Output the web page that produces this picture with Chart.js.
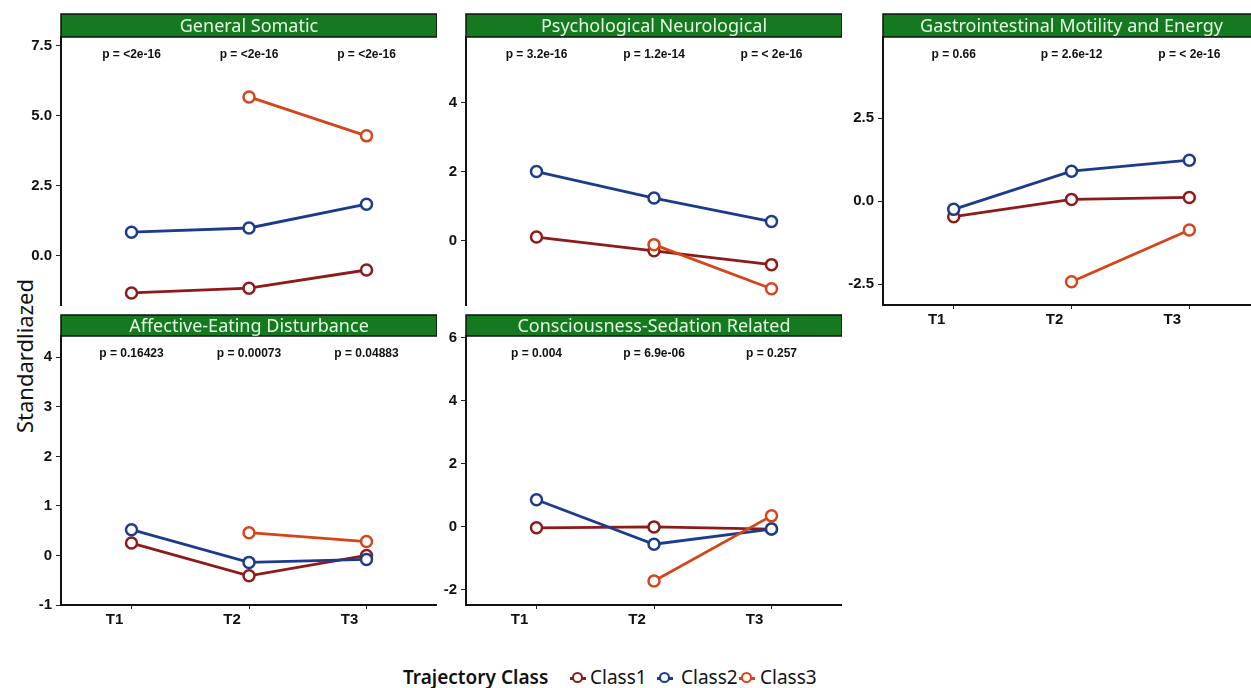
<!DOCTYPE html>
<html lang="en">
<head>
<meta charset="UTF-8">
<title>Trajectory Class</title>
<script src="https://cdn.jsdelivr.net/npm/chart.js"></script>
<style>
  html, body { margin: 0; padding: 0; background: #fff; overflow: hidden; }
  body { width: 1251px; height: 688px; position: relative; font-family: "Noto Sans", Arial, sans-serif; }
  canvas.panel { position: absolute; }
  #ytitle {
    position: absolute; left: 24px; top: 356px;
    transform: translate(-50%, -50%) rotate(-90deg);
    font-size: 22px; color: #111; white-space: nowrap;
  }
  .leg { position: absolute; top: 664px; font-size: 19px; color: #111; white-space: nowrap; line-height: 26px; }
  .leg.title { font-weight: 600; }
  .key { position: absolute; top: 678px; width: 16px; height: 0; }
  .key .ln { position: absolute; left: 0; top: -1px; width: 16px; height: 2.5px; }
  .key .pt { position: absolute; left: 2px; top: -6px; width: 7px; height: 7px; border-radius: 50%; background: #fff; border: 2.5px solid; }
</style>
</head>
<body>
<div id="ytitle">Standardliazed</div>

<script>
  // ---- data ----
  const timePoints = ["T1", "T2", "T3"];
  const classNames = ["Class1", "Class2", "Class3"];
  const classColors = ["#8e1a1a", "#1c3b8c", "#d6441a"];

  const panelTitles = [
    "General Somatic",
    "Psychological Neurological",
    "Gastrointestinal Motility and Energy",
    "Affective-Eating Disturbance",
    "Consciousness-Sedation Related"
  ];

  const class1Values = [
    [-1.32, -1.15, -0.50],
    [0.10, -0.30, -0.70],
    [-0.47, 0.05, 0.11],
    [0.25, -0.41, 0.00],
    [-0.03, 0.00, -0.07]
  ];
  const class2Values = [
    [0.85, 1.00, 1.85],
    [2.00, 1.23, 0.55],
    [-0.25, 0.90, 1.23],
    [0.52, -0.14, -0.08],
    [0.86, -0.55, -0.07]
  ];
  const class3Values = [
    [null, 5.68, 4.29],
    [null, -0.12, -1.40],
    [null, -2.43, -0.87],
    [null, 0.46, 0.28],
    [null, -1.72, 0.35]
  ];

  const pValues = [
    ["p = <2e-16", "p = <2e-16", "p = <2e-16"],
    ["p = 3.2e-16", "p = 1.2e-14", "p = < 2e-16"],
    ["p = 0.66", "p = 2.6e-12", "p = < 2e-16"],
    ["p = 0.16423", "p = 0.00073", "p = 0.04883"],
    ["p = 0.004", "p = 6.9e-06", "p = 0.257"]
  ];

  const yTicks = [
    [0, 2.5, 5, 7.5],
    [0, 2, 4],
    [-2.5, 0, 2.5],
    [-1, 0, 1, 2, 3, 4],
    [-2, 0, 2, 4, 6]
  ];
  const yDecimals = [1, 0, 1, 0, 0];
  const yMin = [-1.75, -1.87, -3.13, -1, -2.48];
  const yMax = [7.82, 5.9, 4.94, 4.43, 6.06];

  // ---- panel layout (pixels) ----
  const AXIS_W = 45, XAXIS_H = 25;
  const panelBoxes = [
    { left: 16,  top: 13,  w: 421, h: 317, padTop: 24, showX: false },
    { left: 421, top: 13,  w: 421, h: 317, padTop: 24, showX: false },
    { left: 838, top: 13,  w: 422, h: 317, padTop: 24, showX: true },
    { left: 16,  top: 314, w: 421, h: 316, padTop: 22, showX: true },
    { left: 421, top: 314, w: 421, h: 316, padTop: 22, showX: true }
  ];

  const panelDecor = {
    id: "panelDecor",
    afterDraw(chart, args, opts) {
      const { ctx, chartArea, scales } = chart;
      const l = chartArea.left, r = chartArea.right, t = chartArea.top;
      ctx.save();
      // green strip
      ctx.fillStyle = "#157a1f";
      ctx.fillRect(l, 1, r - l, t - 1);
      ctx.strokeStyle = "#111";
      ctx.lineWidth = 1.5;
      ctx.strokeRect(l, 1, r - l, t - 1);
      ctx.fillStyle = "#e6f7e6";
      ctx.font = '18px "Noto Sans", sans-serif';
      ctx.textAlign = "center";
      ctx.textBaseline = "middle";
      ctx.fillText(opts.title, (l + r) / 2, (1 + t) / 2 + 1);
      // p-values
      ctx.fillStyle = "#111";
      ctx.font = 'bold 12px "Liberation Sans", Arial, sans-serif';
      opts.pvals.forEach((p, i) => {
        ctx.fillText(p, scales.x.getPixelForValue(i + 1), t + 18);
      });
      ctx.restore();
    }
  };

  function makePanel(i) {
    const box = panelBoxes[i];
    const canvas = document.createElement("canvas");
    canvas.className = "panel";
    canvas.width = box.w;
    canvas.height = box.h;
    canvas.style.left = box.left + "px";
    canvas.style.top = box.top + "px";
    canvas.style.width = box.w + "px";
    canvas.style.height = box.h + "px";
    document.body.appendChild(canvas);

    const series = [class1Values[i], class2Values[i], class3Values[i]];
    const tickFont = { family: '"Liberation Sans", Arial, sans-serif', size: 15, weight: "bold" };

    new Chart(canvas, {
      type: "line",
      data: {
        datasets: series.map((vals, k) => ({
          label: classNames[k],
          data: vals.map((v, j) => ({ x: j + 1, y: v })).filter(p => p.y !== null),
          borderColor: classColors[k],
          backgroundColor: "#fff",
          pointBackgroundColor: "#fff",
          pointBorderColor: classColors[k],
          pointRadius: 5.5,
          pointBorderWidth: 2.5,
          borderWidth: 2.8,
          tension: 0,
          order: 2 - k
        }))
      },
      options: {
        responsive: false,
        animation: false,
        layout: { autoPadding: false, padding: { top: box.padTop, left: 0, right: 0, bottom: 0 } },
        plugins: {
          legend: { display: false },
          tooltip: { enabled: false },
          panelDecor: { title: panelTitles[i], pvals: pValues[i] }
        },
        scales: {
          x: {
            type: "linear",
            min: 0.4,
            max: 3.6,
            afterBuildTicks: s => { s.ticks = [1, 2, 3].map(v => ({ value: v })); },
            afterFit: s => { s.height = XAXIS_H; },
            ticks: {
              callback: v => timePoints[v - 1],
              color: box.showX ? "#111" : "rgba(0,0,0,0)",
              font: tickFont,
              padding: 2,
              labelOffset: -17,
              maxRotation: 0,
              autoSkip: false
            },
            grid: { display: box.showX, drawOnChartArea: false, drawTicks: true, tickLength: 4, color: "#222" },
            border: { display: box.showX, color: "#111", width: 2 }
          },
          y: {
            min: yMin[i],
            max: yMax[i],
            afterBuildTicks: s => { s.ticks = yTicks[i].map(v => ({ value: v })); },
            afterFit: s => { s.width = AXIS_W; },
            ticks: {
              callback: v => Number(v).toFixed(yDecimals[i]),
              color: "#111",
              font: tickFont,
              padding: 4
            },
            grid: { display: true, drawOnChartArea: false, drawTicks: true, tickLength: 5, color: "#222" },
            border: { display: true, color: "#111", width: 2 }
          }
        }
      },
      plugins: [panelDecor]
    });
  }

  for (let i = 0; i < panelTitles.length; i++) makePanel(i);

  // legend
  const legTitle = document.createElement("div");
  legTitle.className = "leg title";
  legTitle.style.left = "403px";
  legTitle.textContent = "Trajectory Class";
  document.body.appendChild(legTitle);

  const keyLeft = [570, 657, 739];
  const labelLeft = [590, 681, 760];
  classNames.forEach((name, k) => {
    const key = document.createElement("div");
    key.className = "key";
    key.style.left = keyLeft[k] + "px";
    key.innerHTML = '<div class="ln" style="background:' + classColors[k] + '"></div>' +
                    '<div class="pt" style="border-color:' + classColors[k] + '"></div>';
    document.body.appendChild(key);
    const lab = document.createElement("div");
    lab.className = "leg";
    lab.style.left = labelLeft[k] + "px";
    lab.textContent = name;
    document.body.appendChild(lab);
  });
</script>
</body>
</html>
